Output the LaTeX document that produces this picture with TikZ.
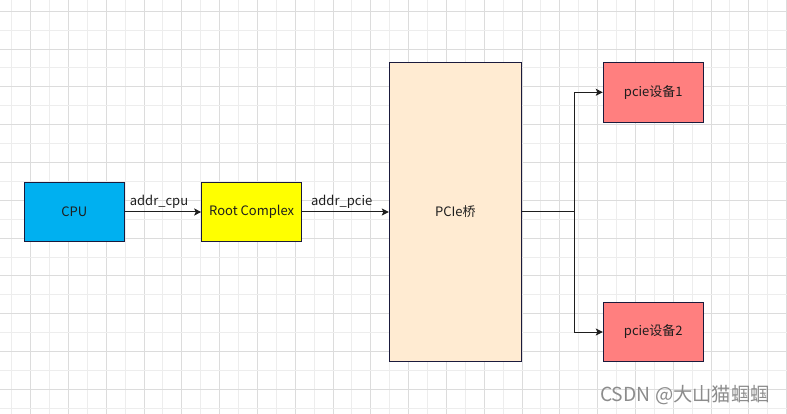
\documentclass[tikz,border=0pt]{standalone}
\usepackage{fontspec}
\setmainfont{Noto Sans CJK SC}
\usetikzlibrary{arrows.meta}
\definecolor{gridlight}{HTML}{EDEDED}
\definecolor{griddark}{HTML}{DCDCDC}
\definecolor{cpublue}{HTML}{00B0F0}
\definecolor{rcyellow}{HTML}{FFFF00}
\definecolor{bridgefill}{HTML}{FFEBD2}
\definecolor{devred}{HTML}{FF7F7F}
\definecolor{boxborder}{HTML}{1A1A3C}
\definecolor{txt}{HTML}{1E1E1E}
\definecolor{wm}{HTML}{8C8C8C}
\tikzset{
  box/.style={draw=boxborder, line width=1pt, inner sep=0pt, text=txt, font=\fontsize{13}{15}\selectfont},
  conn/.style={draw=txt, line width=1pt, -{Stealth[length=7pt,width=7pt,inset=1.5pt]}},
  plain/.style={draw=txt, line width=1pt},
  lbl/.style={anchor=base, inner sep=0pt, text=txt, font=\fontsize{13}{15}\selectfont},
}
\begin{document}
\begin{tikzpicture}[x=1pt,y=-1pt]
\useasboundingbox (0,0) rectangle (787,414);
\fill[white] (0,0) rectangle (787,414);
% grid
\foreach \k in {0,...,41}{
  \pgfmathsetmacro{\gx}{11.7+18.9*\k}
  \pgfmathparse{int(mod(\k,2))}
  \ifnum\pgfmathresult=1
    \draw[griddark, line width=1pt] (\gx,0) -- (\gx,414);
  \else
    \draw[gridlight, line width=1pt] (\gx,0) -- (\gx,414);
  \fi
}
\foreach \k in {0,...,21}{
  \pgfmathsetmacro{\gy}{11.3+18.9*\k}
  \pgfmathparse{int(mod(\k,2))}
  \ifnum\pgfmathresult=0
    \draw[griddark, line width=1pt] (0,\gy) -- (787,\gy);
  \else
    \draw[gridlight, line width=1pt] (0,\gy) -- (787,\gy);
  \fi
}
% nodes
\node[box, fill=cpublue, minimum width=100pt, minimum height=59.5pt] (cpu) at (74.2,212) {CPU};
\node[box, fill=rcyellow, minimum width=100pt, minimum height=59.5pt] (rc) at (251.7,212) {Root Complex};
\node[box, fill=bridgefill, minimum width=132pt, minimum height=299.5pt] (br) at (455.3,212) {PCIe桥};
\node[box, fill=devred, minimum width=100pt, minimum height=60pt] (d1) at (653.3,92.3) {pcie设备1};
\node[box, fill=devred, minimum width=100pt, minimum height=59.5pt] (d2) at (653.3,332) {pcie设备2};
% connectors
\draw[conn] (cpu.east) -- (rc.west);
\draw[conn] (rc.east) -- (br.west);
\coordinate (split) at (574.3,212);
\draw[plain] (br.east) -- (split);
\draw[conn] (split) |- (d1.west);
\draw[conn] (split) |- (d2.west);
% labels
\node[lbl] (lcpu) at (159,205.5) {addr\_cpu};
\node[lbl] (lpcie) at (341.7,205.5) {addr\_pcie};
% watermark
\node[anchor=base west, inner sep=0pt, text=wm, font=\fontsize{19.3}{21}\selectfont] (wmk) at (600,401.7) {CSDN @大山猫蝈蝈};
\end{tikzpicture}
\end{document}
